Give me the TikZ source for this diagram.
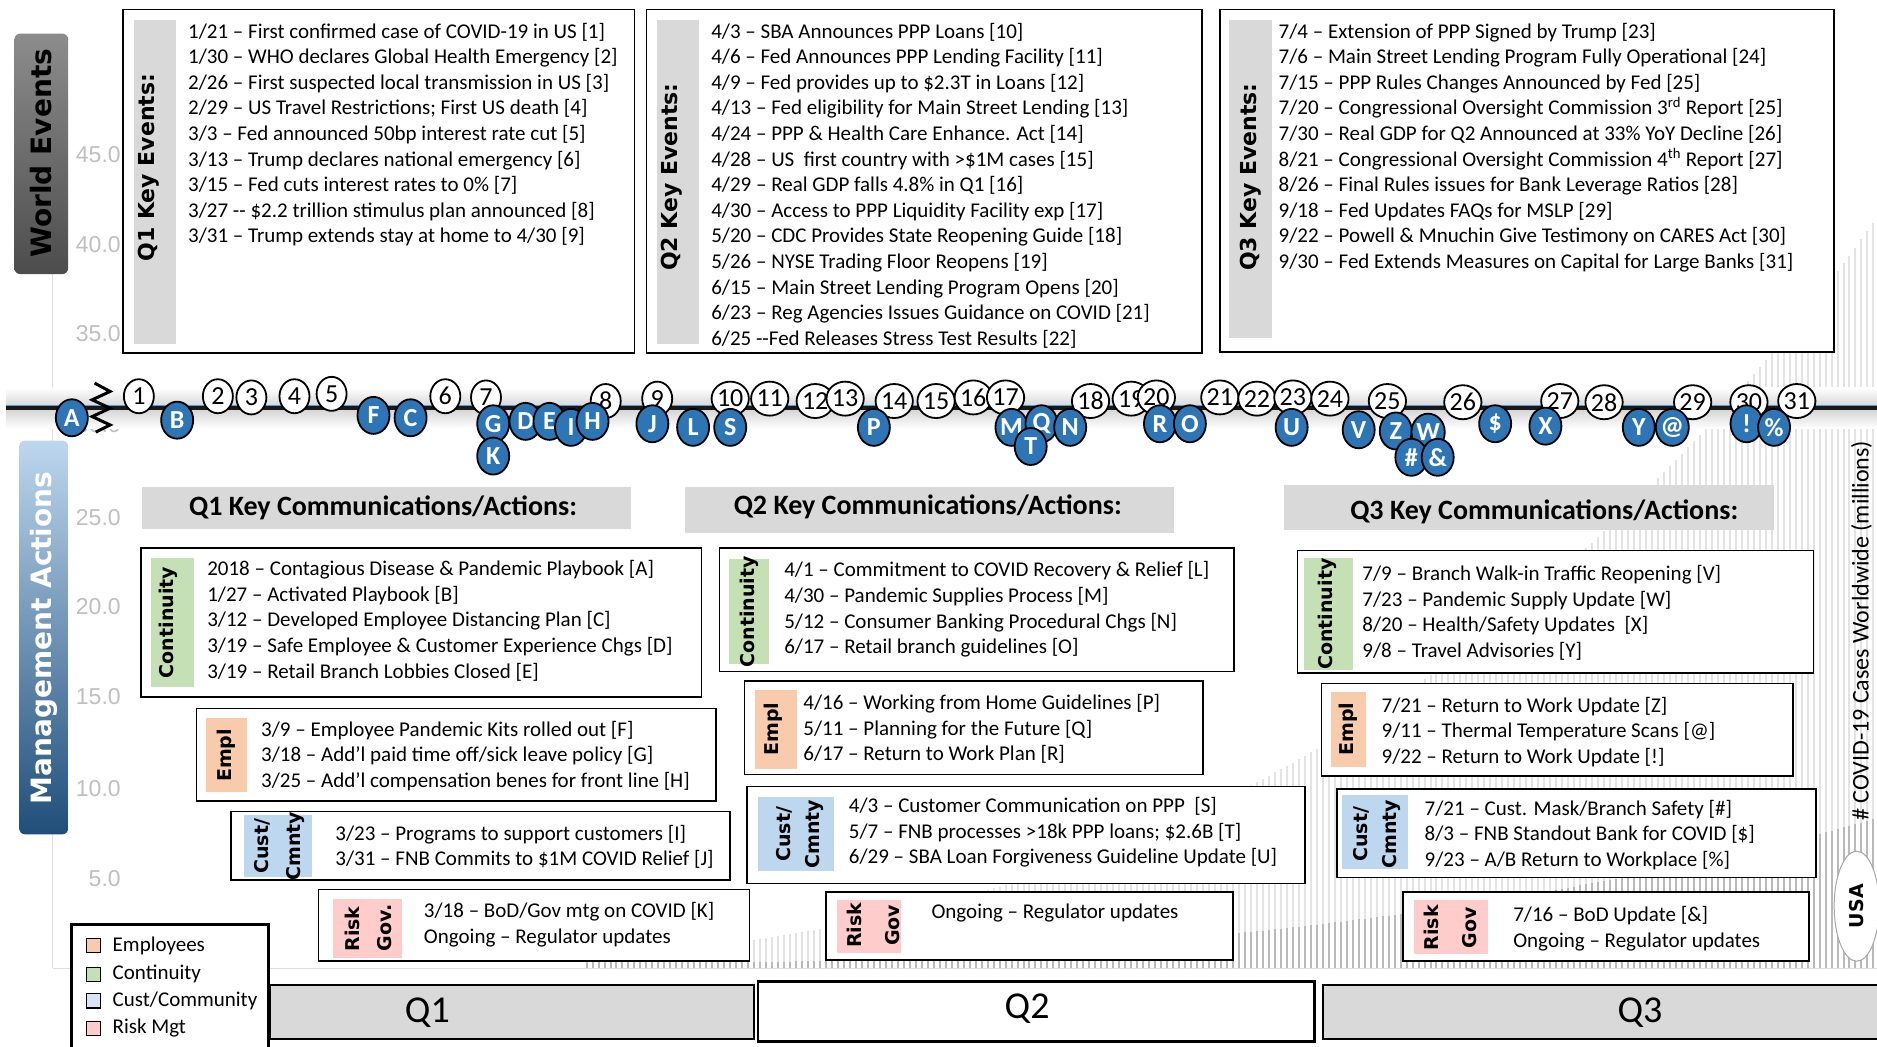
\documentclass[tikz,border=0pt]{standalone}
\usepackage{fontspec}
\setmainfont{Carlito}
\newfontfamily\tagfont{DejaVu Sans}
\newfontfamily\axfont{Liberation Sans}
\usetikzlibrary{shapes.geometric}

\definecolor{stripgray}{RGB}{217,217,217}
\definecolor{contgreen}{RGB}{197,224,180}
\definecolor{emplorange}{RGB}{248,203,173}
\definecolor{custblue}{RGB}{189,215,238}
\definecolor{legblue}{RGB}{218,227,243}
\definecolor{riskpink}{RGB}{255,204,204}
\definecolor{dotblue}{RGB}{46,117,182}
\definecolor{lineblue}{RGB}{91,155,213}
\definecolor{mgmtdark}{RGB}{31,78,121}

\tikzset{
  boxline/.style={draw=black, line width=1.6pt, fill=white},
  boxtxt/.style={anchor=north west, inner sep=0pt, align=left, font=\fontsize{21}{25.6}\selectfont},
  catlab/.style={rotate=90, inner sep=0pt, font=\tagfont\bfseries\fontsize{19}{22}\selectfont},
  evnum/.style={ellipse, draw=black, line width=1.8pt, fill=white, inner sep=0pt,
    minimum width=30pt, minimum height=34pt, font=\fontsize{26}{26}\selectfont},
  actdot/.style={ellipse, draw=black, line width=1.8pt, fill=dotblue, text=white, inner sep=0pt,
    minimum width=32pt, minimum height=37pt, font=\bfseries\fontsize{26}{26}\selectfont},
  hdr/.style={font=\bfseries\fontsize{28}{30}\selectfont},
  axlab/.style={anchor=east, inner sep=0pt, text=gray!50, font=\axfont\fontsize{23}{23}\selectfont},
  qbar/.style={draw=black, line width=2.5pt},
  qlab/.style={font=\fontsize{38}{38}\selectfont}
}

\begin{document}
\begin{tikzpicture}[x=1.19707pt, y=-1.19707pt]
\useasboundingbox (0,0) rectangle (1568,874);

% cases chart in the back
\draw[gray!25, line width=1pt] (44,229) -- (44,809);
\draw[gray!25, line width=1pt] (44,809) -- (1568,809);
\foreach \x in {490,495,...,1565}{
  \pgfmathsetmacro\w{809-626.65*((\x-100)/1468)^3.2}
  \pgfmathsetmacro\u{min(804,809-125.3*((\x-100)/1468)^3.2)}
  \draw[gray!22, line width=2pt] (\x,809) -- (\x,\w);
  \draw[gray!55, line width=2pt] (\x,809) -- (\x,\u);
}
\foreach \v/\y in {45.0/129, 40.0/204, 35.0/279, 30.0/355, 25.0/432, 20.0/507, 15.0/582, 10.0/659, 5.0/734}
  \node[axlab] (ax\y) at (101,\y) {\v};
\node[rotate=90, font=\fontsize{24}{24}\selectfont] (cases) at (1555,527) {\# COVID-19 Cases Worldwide (millions)};
\node[ellipse, rotate=90, draw=gray!70, line width=1pt, fill=white, inner sep=0pt,
  minimum width=110pt, minimum height=45pt, font=\tagfont\bfseries\fontsize{19}{22}\selectfont] (usa) at (1551,757) {USA};

% timeline
\coordinate (tlstart) at (5,341);
\coordinate (tlend) at (1568,341);
\shade[top color=white, bottom color=white, middle color=gray!35] (5,324) rectangle (1568,358);
\draw[line width=4pt, gray!20!black] (tlstart) -- (tlend);
\draw[line width=1pt, lineblue] ([yshift=2.5pt]tlstart) -- ([yshift=2.5pt]tlend);
\draw[line width=3pt, line join=miter] (79,320) -- (92,327) -- (77,334) -- (92,341) -- (77,348) -- (92,355) -- (80,361);

% side tags
\shade[rounded corners=6pt, top color=gray!90, bottom color=gray!60!black] (12,28) rectangle (57,229);
\node[rotate=90, font=\tagfont\bfseries\fontsize{28}{30}\selectfont] (world) at (34.5,128) {World Events};
\shade[rounded corners=6pt, top color=custblue, middle color=dotblue, bottom color=mgmtdark] (16,368) rectangle (57,697);
\node[rotate=90, text=white, font=\tagfont\bfseries\fontsize{28}{30}\selectfont] (mgmt) at (36.5,533) {Management Actions};

% key events
\draw[boxline] (103,8) rectangle (530,295);
\fill[stripgray] (112,17) rectangle (147,287);
\node[catlab, font=\tagfont\bfseries\fontsize{22}{24}\selectfont] (k1) at (124,140) {Q1 Key Events:};
\node[boxtxt] (ev1) at (157,19) {1/21 – First confirmed case of COVID-19 in US [1]\\
1/30 – WHO declares Global Health Emergency [2]\\
2/26 – First suspected local transmission in US [3]\\
2/29 – US Travel Restrictions; First US death [4]\\
3/3 – Fed announced 50bp interest rate cut [5]\\
3/13 – Trump declares national emergency [6]\\
3/15 – Fed cuts interest rates to 0\% [7]\\
3/27 -{}- \$2.2 trillion stimulus plan announced [8]\\
3/31 – Trump extends stay at home to 4/30 [9]};

\draw[boxline] (540,8) rectangle (1004,295);
\fill[stripgray] (549,17) rectangle (584,287);
\node[catlab, font=\tagfont\bfseries\fontsize{22}{24}\selectfont] (k2) at (561,148) {Q2 Key Events:};
\node[boxtxt] (ev2) at (594,19) {4/3 – SBA Announces PPP Loans [10]\\
4/6 – Fed Announces PPP Lending Facility [11]\\
4/9 – Fed provides up to \$2.3T in Loans [12]\\
4/13 – Fed eligibility for Main Street Lending [13]\\
4/24 – PPP \& Health Care Enhance. Act [14]\\
4/28 – US\ \ first country with >\$1M cases [15]\\
4/29 – Real GDP falls 4.8\% in Q1 [16]\\
4/30 – Access to PPP Liquidity Facility exp [17]\\
5/20 – CDC Provides State Reopening Guide [18]\\
5/26 – NYSE Trading Floor Reopens [19]\\
6/15 – Main Street Lending Program Opens [20]\\
6/23 – Reg Agencies Issues Guidance on COVID [21]\\
6/25 -{}-Fed Releases Stress Test Results [22]};

\draw[boxline] (1019,8) rectangle (1532,294);
\fill[stripgray] (1027,17) rectangle (1063,282);
\node[catlab, font=\tagfont\bfseries\fontsize{22}{24}\selectfont] (k3) at (1045,148) {Q3 Key Events:};
\node[boxtxt] (ev3) at (1068,19) {7/4 – Extension of PPP Signed by Trump [23]\\
7/6 – Main Street Lending Program Fully Operational [24]\\
7/15 – PPP Rules Changes Announced by Fed [25]\\
7/20 – Congressional Oversight Commission 3\textsuperscript{rd} Report [25]\\
7/30 – Real GDP for Q2 Announced at 33\% YoY Decline [26]\\
8/21 – Congressional Oversight Commission 4\textsuperscript{th} Report [27]\\
8/26 – Final Rules issues for Bank Leverage Ratios [28]\\
9/18 – Fed Updates FAQs for MSLP [29]\\
9/22 – Powell \& Mnuchin Give Testimony on CARES Act [30]\\
9/30 – Fed Extends Measures on Capital for Large Banks [31]};

% headers
\fill[stripgray] (119,407) rectangle (527,442);
\node[hdr] (h1) at (320,424) {Q1 Key Communications/Actions:};
\fill[stripgray] (572,407) rectangle (981,445);
\node[hdr] (h2) at (775,423) {Q2 Key Communications/Actions:};
\fill[stripgray] (1073,405) rectangle (1482,443);
\node[hdr] (h3) at (1290,428) {Q3 Key Communications/Actions:};

% Q1 actions
\draw[boxline] (118,458) rectangle (586,582);
\fill[contgreen] (126,466) rectangle (162,574);
\node[catlab] (c1) at (141,520) {Continuity};
\node[boxtxt] (tc1) at (173,468) {2018 – Contagious Disease \& Pandemic Playbook [A]\\
1/27 – Activated Playbook [B]\\
3/12 – Developed Employee Distancing Plan [C]\\
3/19 – Safe Employee \& Customer Experience Chgs [D]\\
3/19 – Retail Branch Lobbies Closed [E]};
\draw[boxline] (164,592) rectangle (598,669);
\fill[emplorange] (172,600) rectangle (206,662);
\node[catlab] (m1) at (189,631) {Empl};
\node[boxtxt] (tm1) at (218,602) {3/9 – Employee Pandemic Kits rolled out [F]\\
3/18 – Add’l paid time off/sick leave policy [G]\\
3/25 – Add’l compensation benes for front line [H]};
\draw[boxline] (193,678) rectangle (610,735);
\fill[custblue] (204,681) rectangle (261,733);
\node[catlab] (u1a) at (219,707) {Cust/};
\node[catlab] (u1b) at (247,707) {Cmnty};
\node[boxtxt] (tu1) at (280,689) {3/23 – Programs to support customers [I]\\
3/31 – FNB Commits to \$1M COVID Relief [J]};
\draw[boxline] (266,743) rectangle (626,803);
\fill[riskpink] (278,751) rectangle (336,800);
\node[catlab] (r1a) at (294,776) {Risk};
\node[catlab] (r1b) at (321,775) {Gov.};
\node[boxtxt] (tr1) at (354,754) {3/18 – BoD/Gov mtg on COVID [K]\\
Ongoing – Regulator updates};

% Q2 actions
\draw[boxline] (601,458) rectangle (1031,561);
\fill[contgreen] (609,467) rectangle (642,555);
\node[catlab] (c2) at (626,511) {Continuity};
\node[boxtxt] (tc2) at (655,469) {4/1 – Commitment to COVID Recovery \& Relief [L]\\
4/30 – Pandemic Supplies Process [M]\\
5/12 – Consumer Banking Procedural Chgs [N]\\
6/17 – Retail branch guidelines [O]};
\draw[boxline] (622,569) rectangle (1005,647);
\fill[emplorange] (631,576) rectangle (666,642);
\node[catlab] (m2) at (646,609) {Empl};
\node[boxtxt] (tm2) at (671,580) {4/16 – Working from Home Guidelines [P]\\
5/11 – Planning for the Future [Q]\\
6/17 – Return to Work Plan [R]};
\draw[boxline] (624,657) rectangle (1090,738);
\fill[custblue] (633,666) rectangle (697,728);
\node[catlab] (u2a) at (655,697) {Cust/};
\node[catlab] (u2b) at (680,697) {Cmnty};
\node[boxtxt] (tu2) at (709,666) {4/3 – Customer Communication on PPP\ \ [S]\\
5/7 – FNB processes >18k PPP loans; \$2.6B [T]\\
6/29 – SBA Loan Forgiveness Guideline Update [U]};
\draw[boxline] (690,745) rectangle (1030,802);
\fill[riskpink] (699,752) rectangle (753,796);
\node[catlab] (r2a) at (714,773) {Risk};
\node[catlab] (r2b) at (746,773) {Gov};
\node[boxtxt] (tr2) at (778,755) {Ongoing – Regulator updates};

% Q3 actions
\draw[boxline] (1084,460) rectangle (1515,562);
\fill[contgreen] (1089,466) rectangle (1130,560);
\node[catlab] (c3) at (1109,513) {Continuity};
\node[boxtxt] (tc3) at (1138,472) {7/9 – Branch Walk-in Traffic Reopening [V]\\
7/23 – Pandemic Supply Update [W]\\
8/20 – Health/Safety Updates\ \ [X]\\
9/8 – Travel Advisories [Y]};
\draw[boxline] (1104,571) rectangle (1498,648);
\fill[emplorange] (1112,578) rectangle (1141,641);
\node[catlab] (m3) at (1126,609) {Empl};
\node[boxtxt] (tm3) at (1154,582) {7/21 – Return to Work Update [Z]\\
9/11 – Thermal Temperature Scans [@]\\
9/22 – Return to Work Update [!]};
\draw[boxline] (1117,659) rectangle (1517,733);
\fill[custblue] (1121,664) rectangle (1176,726);
\node[catlab] (u3a) at (1137,697) {Cust/};
\node[catlab] (u3b) at (1162,697) {Cmnty};
\node[boxtxt] (tu3) at (1190,668) {7/21 – Cust. Mask/Branch Safety [\#]\\
8/3 – FNB Standout Bank for COVID [\$]\\
9/23 – A/B Return to Workplace [\%]};
\draw[boxline] (1172,745) rectangle (1511,803);
\fill[riskpink] (1181,752) rectangle (1243,797);
\node[catlab] (r3a) at (1196,775) {Risk};
\node[catlab] (r3b) at (1228,775) {Gov};
\node[boxtxt] (tr3) at (1264,757) {7/16 – BoD Update [\&]\\
Ongoing – Regulator updates};

% event numbers
\foreach \n/\x/\y in {1/116/331, 2/182/331, 3/210/332, 4/246/331, 5/277/329, 6/372/331, 7/406/332,
  8/506/335, 9/549/333, 10/610/333, 11/643/333, 12/681/335, 13/706/333, 14/747/335, 15/782/335,
  16/813/332, 17/840/332, 18/911/335, 19/945/333, 20/966/332, 21/1019/332, 22/1050/333,
  23/1080/332, 24/1111/333, 25/1159/335, 26/1222/336, 27/1303/335, 28/1340/336, 29/1414/336,
  30/1461/336, 31/1501/335}
  \node[evnum] (e\n) at (\x,\y) {\n};

% actions on the line
\foreach \nm/\lab/\x/\y in {A/A/60/349, B/B/148/351, F/F/312/347, C/C/343/349, G/G/412/354,
  K/K/412/381, D/D/439/352, E/E/459/352, I/I/477/357, H/H/495/352, J/J/545/354, L/L/579/357,
  S/S/610/357, P/P/730/357, M/M/845/357, Q/Q/870/354, N/N/894/357, T/T/861/373, R/R/969/354,
  O/O/994/354, U/U/1079/357, V/V/1135/359, Z/Z/1166/360, W/W/1193/361, hash/{\#}/1179/382,
  amp/{\&}/1201/382, dol/{\$}/1249/354, X/X/1291/356, Y/Y/1369/357, at/@/1397/357,
  excl/!/1459/354, pct/{\%}/1482/357}
  \node[actdot] (a\nm) at (\x,\y) {\lab};

% legend
\draw[line width=3pt, fill=white] (60,772) rectangle (224,880);
\foreach \c/\t/\y in {emplorange/Employees/790, contgreen/Continuity/814, legblue/{Cust/Community}/836, riskpink/{Risk Mgt}/859}{
  \draw[fill=\c, line width=1.2pt] (72,\y-6) rectangle (84,\y+6);
  \node[anchor=west, inner sep=0pt, font=\fontsize{21}{21}\selectfont] (leg\y) at (94,\y) {\t};
}

% quarters
\draw[qbar, fill=stripgray] (225,823) rectangle (630,868);
\node[qlab] (q1) at (357,846) {Q1};
\draw[qbar, fill=white] (633,820) rectangle (1098,870);
\node[qlab] (q2) at (858,843) {Q2};
\draw[qbar, fill=stripgray] (1105,823) rectangle (1575,868);
\node[qlab] (q3) at (1370,846) {Q3};
\end{tikzpicture}
\end{document}
